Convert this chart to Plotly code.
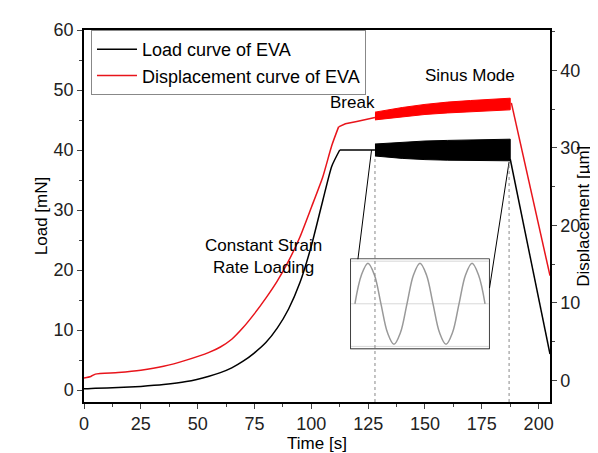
import plotly.graph_objects as go

# load curve (mN)
t_load = [0, 5, 15, 25, 35, 45, 55, 60, 65, 70, 75, 80, 85, 90, 95, 100, 105, 109, 112.5]
load = [0.2, 0.3, 0.4, 0.6, 0.9, 1.4, 2.3, 2.9, 3.7, 4.8, 6.2, 7.9, 10.3, 13.5, 17.9, 24.0, 31.5, 37.3, 40]
t_load_flat = [112.5, 128]
load_flat = [40, 40]
t_load_end = [187.5, 205]
load_end = [38.5, 6]

# displacement curve (um)
t_disp = [0, 3, 5, 15, 25, 35, 45, 55, 60, 65, 70, 75, 80, 85, 90, 95, 100, 105, 109, 112]
disp = [0.3, 0.5, 0.8, 1.0, 1.3, 1.8, 2.6, 3.6, 4.3, 5.3, 6.8, 8.6, 10.6, 12.8, 15.4, 18.5, 22.3, 26.2, 30.3, 32.7]
t_disp_slow = [112, 115, 120, 128]
disp_slow = [32.7, 33.1, 33.4, 33.9]
t_disp_end = [188, 205]
disp_end = [35.8, 13.5]

# envelopes of the sinus mode oscillation
t_band = [128, 140, 150, 160, 170, 180, 187.5]
load_hi = [41.0, 41.3, 41.5, 41.6, 41.7, 41.8, 41.8]
load_lo = [39.0, 38.6, 38.4, 38.3, 38.2, 38.2, 38.2]
disp_hi = [34.6, 35.2, 35.6, 35.9, 36.1, 36.3, 36.4]
disp_lo = [33.6, 34.0, 34.3, 34.5, 34.7, 34.8, 34.9]

# inset sine, read at eighth-period steps
inset_x = [0, 0.5, 1, 1.5, 2, 2.5, 3, 3.5, 4, 4.5, 5, 5.5, 6, 6.5, 7, 7.5, 8, 8.5, 9, 9.5, 10]
inset_y = [0, 0.71, 1, 0.71, 0, -0.71, -1, -0.71, 0, 0.71, 1, 0.71, 0, -0.71, -1, -0.71, 0, 0.71, 1, 0.71, 0]

BLK = dict(color="black", width=1.5)
RED = dict(color="#e8141b", width=1.5)

fig = go.Figure()
fig.add_trace(go.Scatter(x=t_load, y=load, mode="lines", line=dict(BLK, shape="spline", smoothing=0.6),
                         name="Load curve of EVA", legendgroup="l"))
fig.add_trace(go.Scatter(x=t_load_flat + [None] + t_load_end, y=load_flat + [None] + load_end, mode="lines",
                         line=BLK, showlegend=False, legendgroup="l"))
fig.add_trace(go.Scatter(x=t_disp, y=disp, mode="lines", line=dict(RED, shape="spline", smoothing=0.6),
                         name="Displacement curve of EVA", yaxis="y2"))
fig.add_trace(go.Scatter(x=t_disp_slow + [None] + t_disp_end, y=disp_slow + [None] + disp_end, mode="lines",
                         line=RED, showlegend=False, yaxis="y2"))
fig.add_trace(go.Scatter(x=t_band + t_band[::-1], y=load_hi + load_lo[::-1], fill="toself", fillcolor="black",
                         line=dict(color="black", width=1), showlegend=False, mode="lines"))
fig.add_trace(go.Scatter(x=t_band + t_band[::-1], y=disp_hi + disp_lo[::-1], fill="toself", fillcolor="#ff0000",
                         line=dict(color="#ff0000", width=1), showlegend=False, mode="lines", yaxis="y2"))
# inset
for yy in [-1.05, 0, 1.05]:
    fig.add_trace(go.Scatter(x=[-0.3, 10.3], y=[yy, yy], mode="lines", line=dict(color="#d8d8d8", width=1),
                             xaxis="x3", yaxis="y3", showlegend=False))
fig.add_trace(go.Scatter(x=inset_x, y=inset_y, mode="lines", line=dict(color="#999999", width=1.5, shape="spline", smoothing=1),
                         xaxis="x3", yaxis="y3", showlegend=False))

font = dict(family="Liberation Sans, Arial", size=17, color="black")
tfont = dict(family="Liberation Sans, Arial", size=18, color="#222")
ax = dict(showline=True, linecolor="black", linewidth=1.5, ticks="outside", ticklen=5, showgrid=False,
          zeroline=False, tickfont=tfont)
fig.update_layout(
    width=598, height=453, margin=dict(l=76, r=56, t=19, b=59),
    plot_bgcolor="white", paper_bgcolor="white", font=font,
    xaxis=dict(ax, range=[0, 205], dtick=25, title=dict(text="Time [s]", font=font, standoff=2), mirror=True,
               minor=dict(ticks="outside", ticklen=3, dtick=12.5)),
    yaxis=dict(ax, range=[-2, 60], dtick=10, title=dict(text="Load [mN]", font=font, standoff=2),
               minor=dict(ticks="outside", ticklen=3, dtick=5)),
    yaxis2=dict(ax, range=[-2.8, 45.2], dtick=10, overlaying="y", side="right", anchor="x",
                minor=dict(ticks="outside", ticklen=3, dtick=5)),
    xaxis3=dict(domain=[0.573, 0.869], anchor="y3", range=[-0.3, 10.3], visible=False),
    yaxis3=dict(domain=[0.144, 0.384], anchor="x3", range=[-1.1, 1.1], visible=False),
    legend=dict(x=0.015, y=1.0, xanchor="left", yanchor="top", bgcolor="white", bordercolor="#888",
                borderwidth=1, font=dict(family="Liberation Sans, Arial", size=18, color="black"),
                tracegroupgap=0, itemwidth=40),
    shapes=[
        dict(type="rect", xref="paper", yref="paper", x0=0.573, x1=0.869, y0=0.144, y1=0.384,
             line=dict(color="black", width=1.5), fillcolor="#f4f4f4", layer="below"),
        dict(type="line", xref="x", yref="y", x0=120.5, y0=21.8, x1=126.5, y1=40, line=dict(color="black", width=1)),
        dict(type="line", xref="x", yref="y", x0=178.4, y0=17, x1=187, y1=38, line=dict(color="black", width=1)),
        dict(type="line", xref="x", yref="y", x0=128, y0=-2, x1=128, y1=39, line=dict(color="#888", width=1, dash="dot")),
        dict(type="line", xref="x", yref="y", x0=187, y0=-2, x1=187, y1=38, line=dict(color="#888", width=1, dash="dot")),
    ],
    annotations=[
        dict(x=0.255, y=0.33, xref="paper", yref="paper", text="Constant Strain<br>Rate Loading", showarrow=False, font=font),
        dict(x=118, y=48, xref="x", yref="y", text="Break", showarrow=False, font=font),
        dict(x=170, y=52.5, xref="x", yref="y", text="Sinus Mode", showarrow=False, font=font),
        dict(x=1.095, y=0.5, xref="paper", yref="paper", text="Displacement [µm]", textangle=-90,
             showarrow=False, font=font),
    ],
)
fig.write_html("out.html")
